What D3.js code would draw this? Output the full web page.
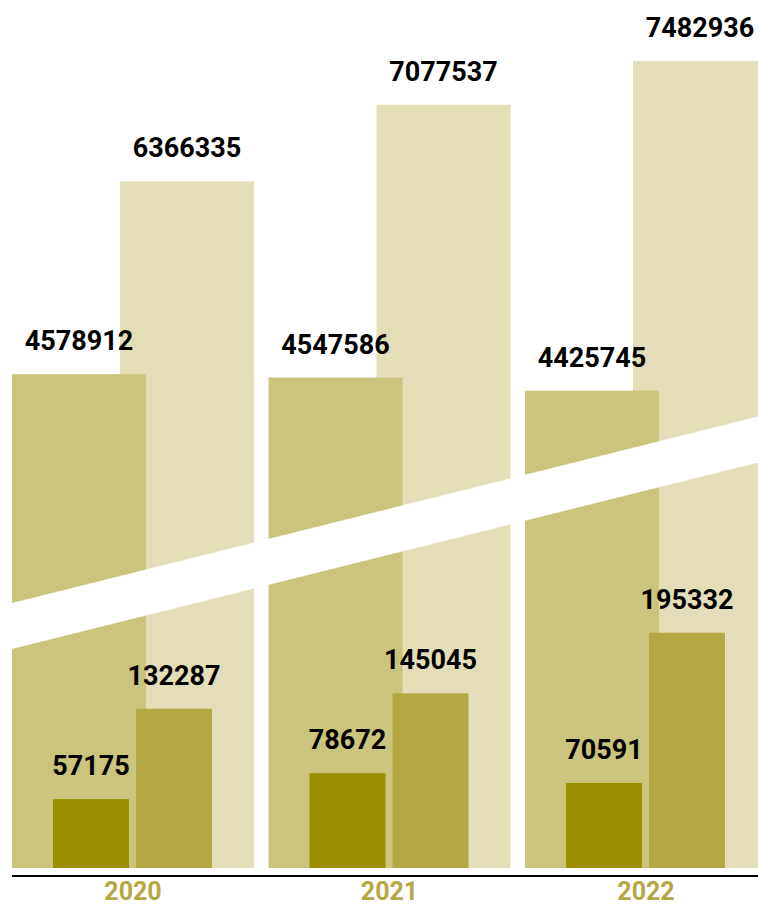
<!DOCTYPE html>
<html>
<head>
<meta charset="utf-8">
<script src="https://cdn.jsdelivr.net/npm/d3@7"></script>
<style>
  html, body { margin: 0; padding: 0; background: #ffffff; }
  svg { display: block; font-family: Roboto, "Noto Sans", sans-serif; }
</style>
</head>
<body>
<svg id="chart" width="758" height="906"></svg>
<script>
// ---- data ----
const years = ["2020", "2021", "2022"];
const bigPrev = [4578912, 4547586, 4425745];
const bigCurr = [6366335, 7077537, 7482936];
const smallPrev = [57175, 78672, 70591];
const smallCurr = [132287, 145045, 195332];
const smallMax = 670000;

// ---- layout ----
const W = 758, H = 906;
const baseY = 868, topY = 61;
const svg = d3.select("#chart");

const x = d3.scaleBand().domain(years).range([12, 767]).paddingInner(0.0565).paddingOuter(0);
const bigX = d3.scalePoint().domain(["prev", "curr"]).range([67, 175]);
const smallX = d3.scalePoint().domain(["prev", "curr"]).range([79, 162]);
const bigW = 134, smallW = 76;

const yBig = d3.scaleLinear().domain([0, d3.max(bigCurr)]).range([baseY, topY]);
const ySmall = d3.scaleLinear().domain([0, smallMax]).range([baseY, topY]);

const colors = { bigPrev: "#cbc47c", bigCurr: "#e3deb7", smallPrev: "#9a8f00", smallCurr: "#b3a843" };

const bigData = years.flatMap((yr, i) => [
  { yr, k: "prev", v: bigPrev[i], c: colors.bigPrev },
  { yr, k: "curr", v: bigCurr[i], c: colors.bigCurr }
]);
const smallData = years.flatMap((yr, i) => [
  { yr, k: "prev", v: smallPrev[i], c: colors.smallPrev },
  { yr, k: "curr", v: smallCurr[i], c: colors.smallCurr }
]);

// big bars (right bar drawn first so left bar overlaps it)
const bigOrder = bigData.slice().sort((a, b) => (a.k === "curr" ? -1 : 1) - (b.k === "curr" ? -1 : 1));
svg.append("g").selectAll("rect").data(bigOrder).join("rect")
  .attr("x", d => x(d.yr) + bigX(d.k) - bigW / 2)
  .attr("y", d => yBig(d.v))
  .attr("width", bigW)
  .attr("height", d => baseY - yBig(d.v))
  .attr("fill", d => d.c);

// broken-axis white band
const bandTop0 = 606, bandSlope = -0.25, bandThick = 46;
svg.append("path")
  .attr("d", `M0,${bandTop0} L${W},${bandTop0 + bandSlope * W} L${W},${bandTop0 + bandSlope * W + bandThick} L0,${bandTop0 + bandThick} Z`)
  .attr("fill", "#ffffff");

// small bars
svg.append("g").selectAll("rect").data(smallData).join("rect")
  .attr("x", d => x(d.yr) + smallX(d.k) - smallW / 2)
  .attr("y", d => ySmall(d.v))
  .attr("width", smallW)
  .attr("height", d => baseY - ySmall(d.v))
  .attr("fill", d => d.c);

// value labels
svg.append("g").selectAll("text").data(bigData).join("text")
  .attr("x", d => x(d.yr) + bigX(d.k))
  .attr("y", d => yBig(d.v) - 24)
  .attr("text-anchor", "middle")
  .attr("font-size", "27px").attr("font-weight", 700).attr("fill", "#000")
  .text(d => d.v);
svg.append("g").selectAll("text").data(smallData).join("text")
  .attr("x", d => x(d.yr) + smallX(d.k))
  .attr("y", d => ySmall(d.v) - 24)
  .attr("text-anchor", "middle")
  .attr("font-size", "27px").attr("font-weight", 700).attr("fill", "#000")
  .text(d => d.v);

// x axis
const axisG = svg.append("g").attr("transform", `translate(0,876)`)
  .call(d3.axisBottom(x).tickSize(0).tickSizeOuter(0).tickPadding(0));
axisG.select(".domain").attr("stroke", "#000").attr("stroke-width", 2).attr("d", `M12,0H${W}`);
axisG.selectAll("text")
  .attr("y", 24).attr("dy", 0)
  .attr("font-size", "25px").attr("font-weight", 700)
  .attr("font-family", "Roboto, sans-serif")
  .attr("fill", "#b3a843");
</script>
</body>
</html>
